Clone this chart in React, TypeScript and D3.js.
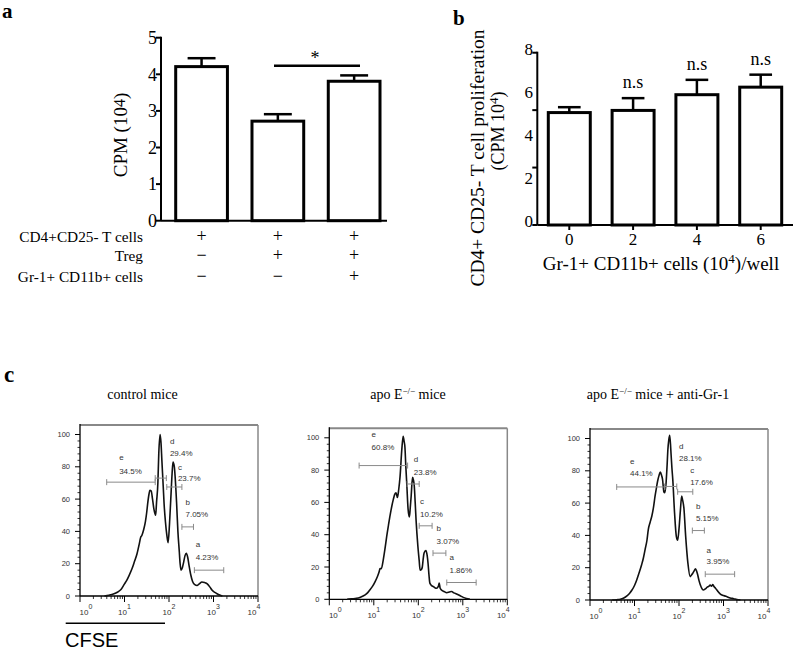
import React from 'react';
import * as d3 from 'd3';

const SERIF = '"Liberation Serif", "Times New Roman", serif';
const SANS = '"Liberation Sans", Arial, sans-serif';

// ---------- Panel a data ----------
const aCategories = ['T', 'T+Treg', 'T+Treg+Gr1'];
const aMeans = [4.21, 2.72, 3.81];
const aErrors = [0.23, 0.19, 0.16];
const aTicks = [0, 1, 2, 3, 4, 5];
const aRowLabels = ['CD4+CD25- T cells', 'Treg', 'Gr-1+ CD11b+ cells'];
const aRowSigns = [
  ['+', '+', '+'],
  ['−', '+', '+'],
  ['−', '−', '+'],
];

// ---------- Panel b data ----------
const bCategories = ['0', '2', '4', '6'];
const bMeans = [5.22, 5.32, 6.05, 6.4];
const bErrors = [0.25, 0.57, 0.69, 0.58];
const bTickMarks = [0, 8 / 3, 16 / 3, 8];
const bTickLabels = [0, 2, 4, 6, 8];
const bSig = ['', 'n.s', 'n.s', 'n.s'];

// ---------- Panel c data (CFSE exponent, % of max) ----------
const controlCurve: [number, number][] = [
  [0.55, 0], [0.65, 0.5], [0.75, 1.2], [0.85, 2.5], [0.92, 4], [1.0, 7.5], [1.05, 9.7], [1.1, 12.5],
  [1.17, 17], [1.22, 21], [1.28, 26], [1.33, 32], [1.36, 36], [1.39, 37.5], [1.43, 41], [1.47, 46],
  [1.5, 52], [1.52, 57], [1.55, 63], [1.57, 65.5], [1.6, 65], [1.63, 60], [1.66, 54], [1.7, 50],
  [1.72, 58], [1.75, 70], [1.77, 88], [1.8, 100], [1.82, 95], [1.84, 84], [1.87, 68], [1.89, 57],
  [1.92, 46], [1.95, 38], [1.98, 33], [2.01, 44], [2.04, 60], [2.07, 76], [2.09, 83], [2.12, 80],
  [2.14, 73], [2.17, 58], [2.2, 40], [2.23, 28], [2.25, 20], [2.27, 16], [2.3, 17.5], [2.33, 21],
  [2.36, 25], [2.39, 26.5], [2.42, 24], [2.45, 19], [2.49, 13], [2.53, 9], [2.58, 7], [2.63, 6.5],
  [2.68, 7.5], [2.74, 8.7], [2.8, 8.3], [2.86, 7.5], [2.92, 5.5], [2.97, 3.5], [3.03, 2.2],
  [3.08, 1.4], [3.14, 0.6], [3.2, 0],
];
const apoECurve: [number, number][] = [
  [0.4, 0], [0.5, 0.3], [0.61, 0.6], [0.7, 1.3], [0.76, 2], [0.84, 3.5], [0.91, 5.8], [0.97, 8],
  [1.03, 11], [1.08, 14], [1.12, 17], [1.14, 19], [1.17, 19], [1.21, 24], [1.25, 31], [1.29, 39],
  [1.33, 46], [1.36, 51], [1.4, 57], [1.44, 62], [1.47, 65], [1.5, 66], [1.53, 63], [1.56, 68],
  [1.59, 76], [1.63, 93], [1.66, 101], [1.68, 98], [1.7, 94], [1.72, 82], [1.74, 72], [1.77, 56],
  [1.8, 51], [1.82, 57], [1.84, 64], [1.87, 75.5], [1.89, 74], [1.91, 70], [1.93, 60], [1.95, 49],
  [1.99, 33], [2.02, 24], [2.04, 18], [2.07, 18.5], [2.09, 20], [2.11, 25], [2.13, 28.6], [2.17, 30.2],
  [2.2, 27], [2.22, 22], [2.24, 15], [2.26, 10], [2.3, 8.5], [2.34, 7.9], [2.38, 7], [2.41, 6.8],
  [2.45, 8], [2.47, 10], [2.49, 7], [2.52, 5.8], [2.58, 4.8], [2.64, 4.1], [2.7, 4.5], [2.75, 4.8],
  [2.8, 4], [2.86, 3.3], [2.94, 2.2], [3.01, 1.2], [3.08, 0.5], [3.16, 0],
];
const antiGr1Curve: [number, number][] = [
  [0.5, 0], [0.6, 0.2], [0.68, 0.4], [0.76, 1.2], [0.83, 2.5], [0.9, 4.5], [0.94, 6], [1.0, 9],
  [1.05, 12.4], [1.1, 16.5], [1.16, 21.8], [1.2, 26], [1.24, 31.5], [1.28, 37], [1.31, 43.6],
  [1.35, 48], [1.39, 52], [1.43, 58], [1.46, 64], [1.49, 69], [1.52, 73.7], [1.55, 77], [1.58, 79.3],
  [1.61, 77], [1.63, 74.7], [1.66, 67], [1.68, 66.4], [1.71, 72.6], [1.73, 82], [1.75, 93], [1.77, 99],
  [1.79, 102], [1.81, 96], [1.82, 91], [1.84, 82], [1.86, 74.7], [1.9, 54], [1.94, 39.4], [1.97, 37],
  [2.0, 44], [2.03, 55], [2.06, 64.3], [2.08, 62], [2.11, 57], [2.15, 39.4], [2.2, 22.8], [2.25, 14.5],
  [2.28, 15.5], [2.31, 16.6], [2.34, 18], [2.37, 19.3], [2.4, 17.5], [2.42, 15.6], [2.45, 12],
  [2.48, 9.3], [2.55, 6.2], [2.6, 7], [2.63, 7.9], [2.67, 8.5], [2.7, 9.3], [2.73, 8.5], [2.76, 9.5],
  [2.79, 8.2], [2.82, 7.3], [2.87, 5.5], [2.93, 3.7], [3.0, 2.8], [3.08, 2], [3.15, 1.3], [3.23, 0.8],
  [3.3, 0.3], [3.38, 0],
];

type Gate = { name: string; pct: string; from: number; to: number; level: number; lx: number; ly: number; py: number };

const controlGates: Gate[] = [
  { name: 'e', pct: '34.5%', from: 0.6, to: 1.69, level: 70.5, lx: 0.88, ly: 86, py: 77.3 },
  { name: 'd', pct: '29.4%', from: 1.69, to: 1.94, level: 73, lx: 2.02, ly: 96, py: 88.5 },
  { name: 'c', pct: '23.7%', from: 1.95, to: 2.29, level: 67.5, lx: 2.2, ly: 80, py: 73 },
  { name: 'b', pct: '7.05%', from: 2.29, to: 2.55, level: 42.8, lx: 2.37, ly: 58, py: 50.6 },
  { name: 'a', pct: '4.23%', from: 2.57, to: 3.23, level: 16, lx: 2.6, ly: 32, py: 24 },
];
const apoEGates: Gate[] = [
  { name: 'e', pct: '60.8%', from: 0.67, to: 1.76, level: 82.8, lx: 0.95, ly: 102, py: 94 },
  { name: 'd', pct: '23.8%', from: 1.75, to: 2.02, level: 71.4, lx: 1.9, ly: 87, py: 79 },
  { name: 'c', pct: '10.2%', from: 2.02, to: 2.31, level: 45.5, lx: 2.04, ly: 61, py: 53 },
  { name: 'b', pct: '3.07%', from: 2.33, to: 2.62, level: 28.6, lx: 2.41, ly: 44, py: 35.8 },
  { name: 'a', pct: '1.86%', from: 2.64, to: 3.3, level: 10.4, lx: 2.7, ly: 26, py: 18 },
];
const antiGr1Gates: Gate[] = [
  { name: 'e', pct: '44.1%', from: 0.6, to: 1.68, level: 70, lx: 0.9, ly: 86, py: 78.4 },
  { name: 'd', pct: '28.1%', from: 1.68, to: 1.95, level: 70.3, lx: 2.0, ly: 95.4, py: 88 },
  { name: 'c', pct: '17.6%', from: 1.97, to: 2.31, level: 67, lx: 2.25, ly: 80.5, py: 73.2 },
  { name: 'b', pct: '5.15%', from: 2.3, to: 2.57, level: 43, lx: 2.38, ly: 58, py: 50.6 },
  { name: 'a', pct: '3.95%', from: 2.59, to: 3.25, level: 16, lx: 2.62, ly: 31, py: 24 },
];

const histYTicks = [0, 20, 40, 60, 80, 100];
const histDecades = [0, 1, 2, 3, 4];

function PanelA() {
  const y = d3.scaleLinear().domain([0, 5]).range([220.7, 37.7]);
  const x = d3.scaleBand<string>().domain(aCategories).range([175.7, 380]).paddingInner(0.322).paddingOuter(0);
  const bw = x.bandwidth();
  const axX = 161;
  const rowY = [242, 261, 282];
  return (
    <g fontFamily={SERIF}>
      <text x={2} y={18} fontSize={21} fontWeight="bold">a</text>
      {aMeans.map((m, i) => {
        const cx = (x(aCategories[i]) as number) + bw / 2;
        return (
          <g key={i}>
            <line x1={cx} x2={cx} y1={y(m)} y2={y(m + aErrors[i])} stroke="#000" strokeWidth={2.5} />
            <line x1={cx - bw * 0.27} x2={cx + bw * 0.27} y1={y(m + aErrors[i])} y2={y(m + aErrors[i])} stroke="#000" strokeWidth={2.5} />
            <rect x={x(aCategories[i])} y={y(m)} width={bw} height={y(0) - y(m)} fill="#fff" stroke="#000" strokeWidth={3} />
          </g>
        );
      })}
      <line x1={axX} x2={axX} y1={y(0)} y2={y(5) - 1} stroke="#000" strokeWidth={2} />
      <line x1={axX} x2={387} y1={y(0)} y2={y(0)} stroke="#000" strokeWidth={2} />
      {aTicks.map((t) => (
        <g key={t}>
          <line x1={axX - 5} x2={axX} y1={y(t)} y2={y(t)} stroke="#000" strokeWidth={2} />
          <text x={157} y={y(t)} dy="0.35em" textAnchor="end" fontSize={18}>{t}</text>
        </g>
      ))}
      <text transform={`translate(120,135) rotate(-90)`} textAnchor="middle" dy="0.35em" fontSize={19}>
        CPM (10<tspan fontSize={16} dy="-2">4</tspan><tspan dy="2">)</tspan>
      </text>
      {/* significance */}
      <line x1={274} x2={360} y1={65.7} y2={65.7} stroke="#000" strokeWidth={2.5} />
      <text x={315} y={64} textAnchor="middle" fontSize={18}>*</text>
      {aRowLabels.map((l, r) => (
        <g key={l}>
          <text x={143} y={rowY[r]} textAnchor="end" fontSize={15.3}>{l}</text>
          {aRowSigns[r].map((s, i) => (
            <text key={i} x={(x(aCategories[i]) as number) + bw / 2} y={rowY[r]} textAnchor="middle" fontSize={18}>{s}</text>
          ))}
        </g>
      ))}
    </g>
  );
}

function PanelB() {
  const y = d3.scaleLinear().domain([0, 8]).range([225, 52.7]);
  const x = d3.scaleBand<string>().domain(bCategories).range([548.3, 781.7]).paddingInner(0.342).paddingOuter(0);
  const bw = x.bandwidth();
  const axX = 537.3;
  return (
    <g fontFamily={SERIF}>
      <text x={453} y={25} fontSize={21} fontWeight="bold">b</text>
      {bMeans.map((m, i) => {
        const cx = (x(bCategories[i]) as number) + bw / 2;
        const top = y(m + bErrors[i]);
        return (
          <g key={i}>
            <line x1={cx} x2={cx} y1={y(m)} y2={top} stroke="#000" strokeWidth={2.5} />
            <line x1={cx - bw * 0.27} x2={cx + bw * 0.27} y1={top} y2={top} stroke="#000" strokeWidth={2.5} />
            <rect x={x(bCategories[i])} y={y(m)} width={bw} height={y(0) - y(m)} fill="#fff" stroke="#000" strokeWidth={3} />
            {bSig[i] && (
              <text x={cx} y={top - 10} textAnchor="middle" fontSize={18}>{bSig[i]}</text>
            )}
            <line x1={cx} x2={cx} y1={y(0)} y2={y(0) + 5} stroke="#000" strokeWidth={2} />
            <text x={cx} y={y(0) + 20} textAnchor="middle" fontSize={17}>{bCategories[i]}</text>
          </g>
        );
      })}
      <line x1={axX} x2={axX} y1={y(0)} y2={y(8) - 1} stroke="#000" strokeWidth={2} />
      <line x1={axX} x2={793} y1={y(0)} y2={y(0)} stroke="#000" strokeWidth={2} />
      {bTickMarks.map((t, i) => (
        <line key={i} x1={axX - 5} x2={axX} y1={y(t)} y2={y(t)} stroke="#000" strokeWidth={2} />
      ))}
      {bTickLabels.map((t) => (
        <text key={t} x={533} y={y(t) - 4} dy="0.35em" textAnchor="end" fontSize={17}>{t}</text>
      ))}
      <text transform={`translate(477,158) rotate(-90)`} textAnchor="middle" dy="0.35em" fontSize={19.5}>
        CD4+ CD25- T cell proliferation
      </text>
      <text transform={`translate(498,131) rotate(-90)`} textAnchor="middle" dy="0.35em" fontSize={18}>
        (CPM 10<tspan fontSize={13} dy="-6">4</tspan><tspan dy="6">)</tspan>
      </text>
      <text x={661} y={270} textAnchor="middle" fontSize={19}>
        Gr-1+ CD11b+ cells (10<tspan fontSize={13} dy="-7">4</tspan><tspan dy="7">)/well</tspan>
      </text>
    </g>
  );
}

function FlowHist({ x0, y0, curve, gates, title, titleX }: {
  x0: number; y0: number; curve: [number, number][]; gates: Gate[]; title: React.ReactNode; titleX: number;
}) {
  const w = 178;
  const x = d3.scaleLog().domain([1, 1e4]).range([x0, x0 + w]);
  const y = d3.scaleLinear().domain([0, 100]).range([y0, y0 - 161.5]);
  const top = y0 - 171;
  const line = d3.line<[number, number]>()
    .x((d) => x(Math.pow(10, d[0])))
    .y((d) => y(d[1]))
    .curve(d3.curveMonotoneX);
  const minorY = d3.range(0, 101, 4).filter((v) => v % 20 !== 0);
  const minorX: number[] = [];
  for (let dd = 0; dd < 4; dd++) for (let k = 2; k <= 9; k++) minorX.push(k * Math.pow(10, dd));
  const gateColor = '#8a8a8a';
  return (
    <g>
      <text x={titleX} y={399} textAnchor="middle" fontFamily={SERIF} fontSize={14}>{title}</text>
      {/* frame */}
      <line x1={x0} x2={x0 + w} y1={top} y2={top} stroke="#888" strokeWidth={2} />
      <line x1={x0 + w} x2={x0 + w} y1={top} y2={y0} stroke="#888" strokeWidth={1.5} />
      <line x1={x0} x2={x0} y1={top - 1} y2={y0} stroke="#000" strokeWidth={1.3} />
      <line x1={x0} x2={x0 + w} y1={y0} y2={y0} stroke="#000" strokeWidth={1.3} />
      {histYTicks.map((t) => (
        <g key={t}>
          <line x1={x0 - 5} x2={x0} y1={y(t)} y2={y(t)} stroke="#000" strokeWidth={1} />
          <text x={x0 - 10} y={y(t)} dy="0.35em" textAnchor="end" fontFamily={SANS} fontSize={7.5} fill="#333">{t}</text>
        </g>
      ))}
      {minorY.map((t) => (
        <line key={t} x1={x0 - 2.5} x2={x0} y1={y(t)} y2={y(t)} stroke="#000" strokeWidth={0.8} />
      ))}
      {histDecades.map((dd, i) => {
        const tx = x(Math.pow(10, dd));
        const off = i === 0 ? 6 : i === histDecades.length - 1 ? -4 : 0;
        return (
          <g key={dd}>
            <line x1={tx} x2={tx} y1={y0} y2={y0 + 6} stroke="#000" strokeWidth={1} />
            <text x={tx + off} y={y0 + 19} textAnchor="middle" fontFamily={SANS} fontSize={8} fill="#333">
              10<tspan fontSize={7} dy="-6">{dd}</tspan>
            </text>
          </g>
        );
      })}
      {minorX.map((v, i) => (
        <line key={i} x1={x(v)} x2={x(v)} y1={y0} y2={y0 + 3} stroke="#000" strokeWidth={0.8} />
      ))}
      <path d={line(curve) as string} fill="none" stroke="#111" strokeWidth={1.6} strokeLinejoin="round" />
      {gates.map((g) => {
        const gx1 = x(Math.pow(10, g.from));
        const gx2 = x(Math.pow(10, g.to));
        const gy = y(g.level);
        const lx = x(Math.pow(10, g.lx));
        return (
          <g key={g.name}>
            <line x1={gx1} x2={gx2} y1={gy} y2={gy} stroke={gateColor} strokeWidth={1} />
            <line x1={gx1} x2={gx1} y1={gy - 3} y2={gy + 3} stroke={gateColor} strokeWidth={1} />
            <line x1={gx2} x2={gx2} y1={gy - 3} y2={gy + 3} stroke={gateColor} strokeWidth={1} />
            <text x={lx} y={y(g.ly)} dy="0.35em" fontFamily={SANS} fontSize={8} fill="#333">{g.name}</text>
            <text x={lx} y={y(g.py)} dy="0.35em" fontFamily={SANS} fontSize={8} fill="#333">{g.pct}</text>
          </g>
        );
      })}
    </g>
  );
}

function PanelC() {
  const sup = (
    <tspan fontSize={9} dy="-5">−/−</tspan>
  );
  return (
    <g>
      <text x={4} y={382} fontFamily={SERIF} fontSize={23} fontWeight="bold">c</text>
      <FlowHist x0={80} y0={596} curve={controlCurve} gates={controlGates} titleX={142.5} title="control mice" />
      <FlowHist x0={329.3} y0={599.3} curve={apoECurve} gates={apoEGates} titleX={408}
        title={<>apo E{sup}<tspan dy="5"> mice</tspan></>} />
      <FlowHist x0={590} y0={600} curve={antiGr1Curve} gates={antiGr1Gates} titleX={658}
        title={<>apo E{sup}<tspan dy="5"> mice + anti-Gr-1</tspan></>} />
      <line x1={65.7} x2={165} y1={623.3} y2={623.3} stroke="#000" strokeWidth={1.5} />
      <text x={65} y={647} fontFamily={SANS} fontSize={20}>CFSE</text>
    </g>
  );
}

export default function App() {
  return (
    <div style={{ position: 'absolute', left: 0, top: 0 }}>
      <svg width={798} height={650} viewBox="0 0 798 650" style={{ display: 'block', background: '#fff' }}>
        <rect width={798} height={650} fill="#fff" />
        <PanelA />
        <PanelB />
        <PanelC />
      </svg>
    </div>
  );
}
